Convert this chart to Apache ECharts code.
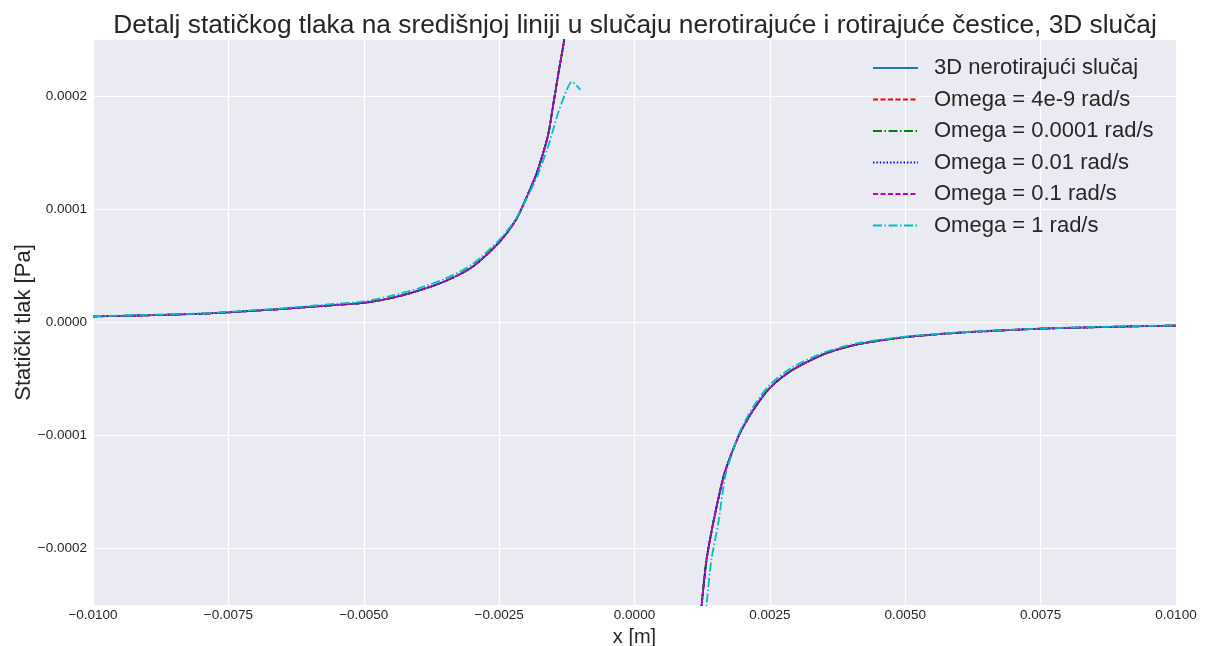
<!DOCTYPE html>
<html>
<head>
<meta charset="utf-8">
<script src="https://cdn.jsdelivr.net/npm/echarts@6/dist/echarts.min.js"></script>
<style>
  html, body { margin: 0; padding: 0; background: #ffffff; }
  #chart { width: 1206px; height: 646px; }
</style>
</head>
<body>
<div id="chart"></div>
<script>
// Static pressure along the centre line, x in metres, pressure in Pa.
// Branch upstream of the particle (x < 0)
const leftX = [-0.0100, -0.0090, -0.0080, -0.0075, -0.0070, -0.0065, -0.0060, -0.0055, -0.0050,
               -0.0045, -0.0040, -0.0035, -0.0030, -0.0025, -0.0022, -0.0020, -0.0018, -0.0016,
               -0.0015, -0.0014, -0.0013, -0.0012];
const leftP = [5.4e-6, 6.4e-6, 7.8e-6, 9.0e-6, 1.05e-5, 1.2e-5, 1.38e-5, 1.56e-5, 1.74e-5,
               2.15e-5, 2.8e-5, 3.65e-5, 4.9e-5, 7.1e-5, 9.0e-5, 1.1e-4, 1.33e-4, 1.65e-4,
               1.93e-4, 2.22e-4, 2.5e-4, 2.95e-4];
// Branch downstream of the particle (x > 0)
const rightX = [0.00120, 0.00124, 0.00133, 0.001455, 0.00164, 0.00176, 0.00195, 0.0022, 0.0025,
                0.0029, 0.0035, 0.0041, 0.0050, 0.0060, 0.0075, 0.0090, 0.0100];
const rightP = [-2.75e-4, -2.5e-4, -2.1e-4, -1.77e-4, -1.37e-4, -1.2e-4, -9.76e-5, -7.7e-5, -5.78e-5,
                -4.25e-5, -2.8e-5, -1.95e-5, -1.3e-5, -9.0e-6, -5.5e-6, -3.6e-6, -2.7e-6];

// Omega = 1 rad/s deviates slightly near the particle
const fastLeftX = [-0.0100, -0.0090, -0.0080, -0.0075, -0.0070, -0.0065, -0.0060, -0.0055, -0.0050,
                   -0.0045, -0.0040, -0.0035, -0.0030, -0.0025, -0.0022, -0.0020, -0.0018, -0.0016,
                   -0.0015, -0.0014, -0.00125, -0.00116, -0.0010];
const fastLeftP = [5.6e-6, 6.7e-6, 8.1e-6, 9.4e-6, 1.09e-5, 1.26e-5, 1.46e-5, 1.66e-5, 1.86e-5,
                   2.35e-5, 3.0e-5, 3.88e-5, 5.12e-5, 7.3e-5, 9.1e-5, 1.09e-4, 1.29e-4, 1.55e-4,
                   1.71e-4, 1.87e-4, 2.06e-4, 2.13e-4, 2.06e-4];
const fastRightX = [0.00128, 0.00133, 0.00142, 0.00155, 0.00167, 0.00178, 0.00195, 0.0022, 0.0025,
                    0.0029, 0.0035, 0.0041, 0.0050, 0.0060, 0.0075, 0.0090, 0.0100];
const fastRightP = [-2.75e-4, -2.5e-4, -2.1e-4, -1.77e-4, -1.37e-4, -1.19e-4, -9.6e-5, -7.4e-5, -5.5e-5,
                    -4.0e-5, -2.65e-5, -1.85e-5, -1.25e-5, -8.7e-6, -5.3e-6, -3.4e-6, -2.5e-6];

const seriesNames = ['3D nerotirajući slučaj', 'Omega = 4e-9 rad/s', 'Omega = 0.0001 rad/s',
                     'Omega = 0.01 rad/s', 'Omega = 0.1 rad/s', 'Omega = 1 rad/s'];
const seriesColors = ['#1f77b4', '#ff0000', '#008000', '#0000ff', '#bf00bf', '#00bfbf'];
const seriesDashes = ['solid', [5, 2.5], [9, 2.5, 1.5, 2.5], [1.4, 2], [5, 2.5], [9, 2.5, 1.5, 2.5]];

// The slowly rotating cases coincide with the non-rotating profile
const curveSets = [
  [leftX, leftP, rightX, rightP],
  [leftX, leftP, rightX, rightP],
  [leftX, leftP, rightX, rightP],
  [leftX, leftP, rightX, rightP],
  [leftX, leftP, rightX, rightP],
  [fastLeftX, fastLeftP, fastRightX, fastRightP]
];

const xTicks = { min: -0.01, max: 0.01, step: 0.0025 };
const yTicks = { min: -0.00025, max: 0.00025, step: 0.00005, labelStep: 0.0001 };

function pairs(xs, ys) { return xs.map((x, i) => [x, ys[i]]); }
function fmt(v) {
  const s = Math.abs(v).toFixed(4);
  return (v < -1e-12 ? '\u2212' : '') + s;
}

const TEXT = '#262626';
const FONT = '"Liberation Sans", Arial, sans-serif';

const series = seriesNames.map((name, i) => {
  const [lx, lp, rx, rp] = curveSets[i];
  const data = pairs(lx, lp).concat([[0, '-']], pairs(rx, rp));
  return {
    name: name,
    type: 'line',
    data: data,
    showSymbol: false,
    symbol: 'none',
    smooth: 0.25,
    connectNulls: false,
    clip: true,
    animation: false,
    lineStyle: { color: seriesColors[i], width: 1.8, type: seriesDashes[i] },
    itemStyle: { color: seriesColors[i] },
    z: 2 + i
  };
});

const chart = echarts.init(document.getElementById('chart'), null, { renderer: 'canvas' });
chart.setOption({
  animation: false,
  backgroundColor: '#ffffff',
  title: {
    text: 'Detalj statičkog tlaka na središnjoj liniji u slučaju nerotirajuće i rotirajuće čestice, 3D slučaj',
    left: 630,
    textAlign: 'center',
    top: 8,
    textStyle: { color: TEXT, fontSize: 26.3, fontWeight: 'normal', fontFamily: FONT }
  },
  legend: {
    orient: 'vertical',
    left: 872,
    top: 57,
    padding: 0,
    itemWidth: 45,
    itemHeight: 14,
    itemGap: 9.5,
    data: seriesNames,
    itemStyle: { opacity: 0 },
    textStyle: { color: TEXT, fontSize: 22, fontFamily: FONT, padding: [0, 0, 0, 11] }
  },
  grid: {
    left: 93, right: 30, top: 40, bottom: 41,
    outerBoundsMode: 'none',
    containLabel: false,
    show: true, backgroundColor: '#eaeaf2', borderWidth: 0
  },
  xAxis: {
    type: 'value',
    min: xTicks.min, max: xTicks.max, interval: xTicks.step,
    name: 'x [m]',
    nameLocation: 'middle',
    nameGap: 22,
    nameMoveOverlap: false,
    nameTextStyle: { color: TEXT, fontSize: 20, fontFamily: FONT },
    axisLine: { show: false },
    axisTick: { show: false },
    axisLabel: { color: TEXT, fontSize: 13.5, fontFamily: FONT, margin: 3, formatter: fmt },
    splitLine: { show: true, lineStyle: { color: '#ffffff', width: 1.2 } }
  },
  yAxis: {
    type: 'value',
    min: yTicks.min, max: yTicks.max, interval: yTicks.step,
    name: 'Statički tlak [Pa]',
    nameLocation: 'middle',
    nameGap: 58,
    nameMoveOverlap: false,
    nameTextStyle: { color: TEXT, fontSize: 22, fontFamily: FONT },
    axisLine: { show: false },
    axisTick: { show: false },
    axisLabel: {
      color: TEXT, fontSize: 13.5, fontFamily: FONT, margin: 6,
      formatter: function (v) {
        const k = Math.round(v / yTicks.labelStep);
        if (Math.abs(k * yTicks.labelStep - v) > 1e-9) return '';
        return fmt(k * yTicks.labelStep);
      }
    },
    // grid lines only at the labelled values (every second tick)
    splitLine: { show: true, lineStyle: { color: ['rgba(0,0,0,0)', '#ffffff'], width: 1.2 } }
  },
  series: series
});
</script>
</body>
</html>
